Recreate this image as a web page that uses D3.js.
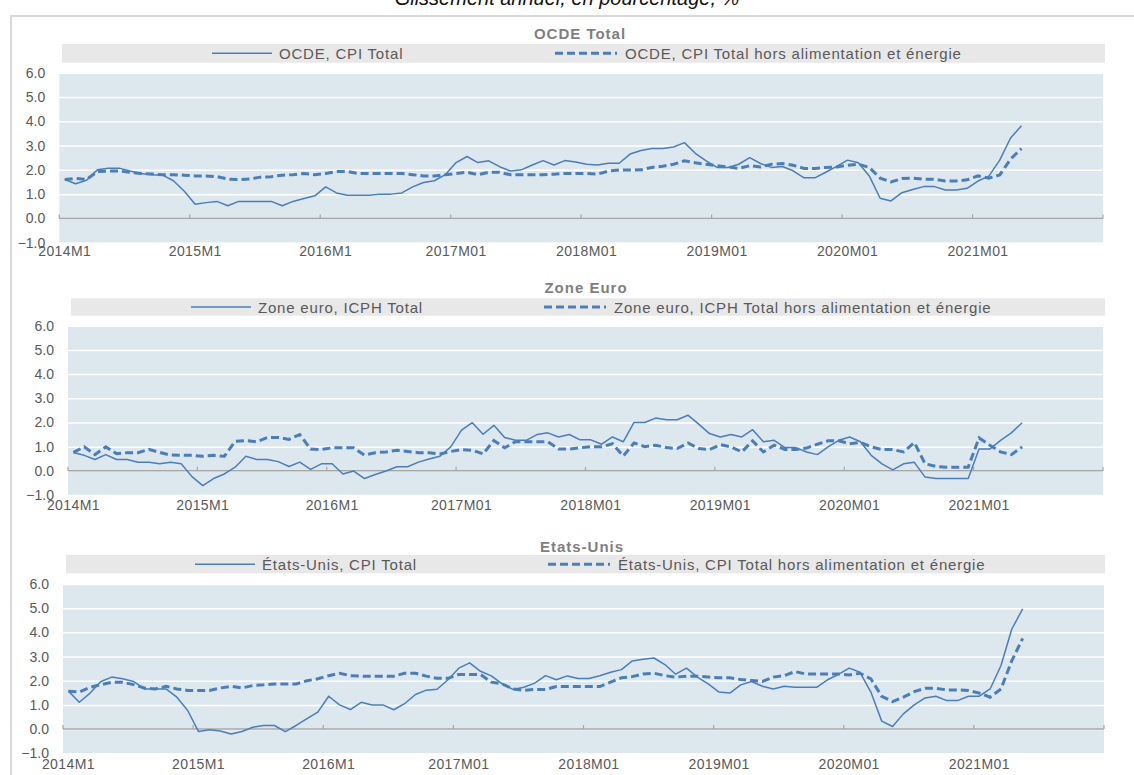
<!DOCTYPE html>
<html>
<head>
<meta charset="utf-8">
<script src="https://cdn.jsdelivr.net/npm/d3@7"></script>
<style>
  body { margin: 0; background: #fff; }
  svg { display: block; font-family: "Liberation Sans", Arial, sans-serif; }
</style>
</head>
<body>
<div id="chart"></div>
<script>
// tick labels of the x axis (one per January)
var xTickLabels = ["2014M1", "2015M1", "2016M1", "2017M01", "2018M01", "2019M01", "2020M01", "2021M01"];
var yTicks = [-1, 0, 1, 2, 3, 4, 5, 6];

// OCDE
var oecdTotal = [
  1.6, 1.43, 1.57, 2.0, 2.07, 2.07, 1.95, 1.85, 1.8, 1.78, 1.55, 1.12,
  0.58, 0.65, 0.7, 0.52, 0.7, 0.7, 0.7, 0.7, 0.52, 0.7, 0.82, 0.93,
  1.3, 1.05, 0.95, 0.95, 0.95, 1.0, 1.0, 1.05, 1.3, 1.48, 1.55, 1.8,
  2.3, 2.55, 2.3, 2.37, 2.13, 1.95, 2.0, 2.2, 2.38, 2.2, 2.38, 2.32,
  2.23, 2.2, 2.27, 2.27, 2.65, 2.8, 2.88, 2.88, 2.94, 3.12, 2.68, 2.37,
  2.1, 2.1, 2.23, 2.5, 2.26, 2.1, 2.14, 1.96, 1.67, 1.67, 1.9, 2.14,
  2.4, 2.29, 1.75, 0.83, 0.72, 1.06, 1.19, 1.31, 1.31, 1.17, 1.17, 1.24,
  1.54, 1.74, 2.4, 3.31, 3.82
];
var oecdCore = [
  1.6, 1.65, 1.6, 1.93, 1.95, 1.95, 1.9, 1.85, 1.83, 1.8, 1.8, 1.78,
  1.75, 1.75, 1.72, 1.62, 1.6, 1.62, 1.7, 1.72, 1.78, 1.8, 1.85, 1.8,
  1.85, 1.93, 1.93, 1.85, 1.85, 1.85, 1.85, 1.85, 1.8, 1.75, 1.75, 1.8,
  1.85, 1.9, 1.8, 1.9, 1.9, 1.8, 1.8, 1.8, 1.8, 1.82, 1.85, 1.85,
  1.85, 1.82, 1.95, 1.99, 1.99, 2.0, 2.1, 2.15, 2.23, 2.37, 2.29, 2.23,
  2.17, 2.12, 2.06, 2.17, 2.12, 2.23, 2.26, 2.19, 2.06, 2.06, 2.1, 2.12,
  2.19, 2.23, 2.1, 1.66, 1.5, 1.64, 1.66, 1.61, 1.61, 1.54, 1.54, 1.59,
  1.75, 1.66, 1.79, 2.44, 2.88
];

// Zone euro
var euroTotal = [
  0.76, 0.64, 0.47, 0.67, 0.47, 0.47, 0.35, 0.35, 0.29, 0.35, 0.29, -0.24,
  -0.61, -0.32, -0.13, 0.15, 0.6, 0.47, 0.47, 0.38, 0.18, 0.36, 0.06, 0.29,
  0.29, -0.13, -0.01, -0.32, -0.15, -0.01, 0.17, 0.17, 0.36, 0.49, 0.6, 0.99,
  1.68, 1.99, 1.51, 1.88, 1.38, 1.26, 1.26, 1.5, 1.57, 1.4, 1.5, 1.28,
  1.28, 1.1, 1.4, 1.2, 2.0, 2.0, 2.18, 2.11, 2.11, 2.3, 1.93, 1.54,
  1.4, 1.5, 1.4, 1.7, 1.2, 1.26, 0.96, 0.96, 0.78, 0.67, 0.99, 1.26,
  1.4, 1.2, 0.64, 0.29, 0.04, 0.29, 0.35, -0.26, -0.32, -0.32, -0.32, -0.32,
  0.9, 0.9, 1.26, 1.57, 1.99
];
var euroCore = [
  0.76, 0.99, 0.67, 0.99, 0.71, 0.75, 0.75, 0.89, 0.76, 0.65, 0.64, 0.64,
  0.6, 0.64, 0.6, 1.22, 1.25, 1.2, 1.38, 1.38, 1.3, 1.5, 0.9, 0.88,
  0.95, 0.95, 0.95, 0.65, 0.75, 0.78, 0.85, 0.8, 0.75, 0.75, 0.7, 0.8,
  0.88, 0.85, 0.7, 1.25, 0.95, 1.2, 1.2, 1.2, 1.2, 0.9, 0.9, 0.95,
  1.0, 0.99, 1.12, 0.61, 1.15, 1.0, 1.06, 0.96, 0.92, 1.15, 0.92, 0.88,
  1.08, 0.99, 0.78, 1.24, 0.78, 1.06, 0.88, 0.88, 0.94, 1.1, 1.24, 1.24,
  1.12, 1.17, 0.99, 0.88, 0.88, 0.78, 1.17, 0.29, 0.18, 0.15, 0.15, 0.15,
  1.36, 1.06, 0.78, 0.67, 0.99
];

// Etats-Unis
var usTotal = [
  1.57, 1.11, 1.49, 1.97, 2.15, 2.08, 1.97, 1.66, 1.66, 1.66, 1.32, 0.77,
  -0.1, -0.03, -0.08, -0.2, -0.1, 0.08, 0.15, 0.15, -0.1, 0.15, 0.43, 0.7,
  1.36, 1.0, 0.81, 1.11, 1.0, 1.0, 0.8, 1.05, 1.43, 1.61, 1.65, 2.04,
  2.52, 2.74, 2.39, 2.2, 1.87, 1.64, 1.73, 1.9, 2.21, 2.04, 2.2, 2.09,
  2.09, 2.21, 2.35, 2.46, 2.82, 2.89, 2.94, 2.67, 2.27, 2.52, 2.15, 1.87,
  1.53, 1.49, 1.83, 1.97, 1.77, 1.66, 1.77, 1.73, 1.73, 1.73, 2.04, 2.26,
  2.52, 2.35, 1.53, 0.33, 0.11, 0.63, 1.0, 1.29, 1.36, 1.18, 1.18, 1.36,
  1.36, 1.66, 2.63, 4.14, 4.97
];
var usCore = [
  1.57, 1.53, 1.73, 1.84, 1.94, 1.94, 1.84, 1.7, 1.66, 1.77, 1.66, 1.6,
  1.6, 1.6, 1.7, 1.77, 1.7, 1.8, 1.83, 1.87, 1.87, 1.87, 2.0, 2.08,
  2.21, 2.31, 2.21, 2.19, 2.19, 2.19, 2.19, 2.31, 2.31, 2.19, 2.1, 2.1,
  2.26, 2.26, 2.26, 1.94, 1.87, 1.66, 1.6, 1.64, 1.64, 1.76, 1.76, 1.76,
  1.76, 1.76, 1.94, 2.12, 2.17, 2.28, 2.31, 2.21, 2.15, 2.19, 2.19, 2.15,
  2.12, 2.12, 2.05, 2.01, 1.97, 2.15, 2.21, 2.38, 2.28, 2.28, 2.28, 2.28,
  2.24, 2.31, 2.08, 1.36, 1.14, 1.32, 1.55, 1.69, 1.69, 1.62, 1.62, 1.6,
  1.49, 1.32, 1.66, 2.83, 3.75
];

// monthly categories 2014M1 .. 2021M12
var months = [];
for (var yr = 2014; yr <= 2021; yr++) {
  for (var m = 1; m <= 12; m++) months.push(yr + "M" + m);
}

var lineColor = "#4a7ebb";
var width = 1134, height = 775;

var svg = d3.select("#chart").append("svg")
    .attr("width", width)
    .attr("height", height);

// subtitle, cut by the top of the picture
svg.append("text")
    .attr("x", 567)
    .attr("y", 5)
    .attr("text-anchor", "middle")
    .style("font-size", "20px")
    .style("font-style", "italic")
    .style("fill", "#111")
    .text("Glissement annuel, en pourcentage, %");

// outer frame
svg.append("rect")
    .attr("x", 11).attr("y", 16)
    .attr("width", 1200).attr("height", 800)
    .attr("fill", "none")
    .attr("stroke", "#d9d9d9")
    .attr("stroke-width", 2);

var panels = [
  {title: "OCDE Total", titleX: 580, titleY: 39,
   band: [62, 44, 1105, 62.7], plot: [59.3, 72.7, 1103, 242.7],
   legendA: 212, legendB: 555, labelY: 258,
   names: ["OCDE, CPI Total", "OCDE, CPI Total hors alimentation et énergie"],
   total: oecdTotal, core: oecdCore},
  {title: "Zone Euro", titleX: 586, titleY: 293,
   band: [71, 298.3, 1105, 315.7], plot: [68, 325.7, 1103, 495],
   legendA: 191, legendB: 544, labelY: 512,
   names: ["Zone euro, ICPH Total", "Zone euro, ICPH Total hors alimentation et énergie"],
   total: euroTotal, core: euroCore},
  {title: "Etats-Unis", titleX: 582, titleY: 551.5,
   band: [66, 555, 1105, 573.3], plot: [63, 584, 1104, 753.3],
   legendA: 195, legendB: 548, labelY: 771,
   names: ["États-Unis, CPI Total", "États-Unis, CPI Total hors alimentation et énergie"],
   total: usTotal, core: usCore}
];

panels.forEach(function(p) {
  var g = svg.append("g");
  var L = p.plot[0], T = p.plot[1], R = p.plot[2], B = p.plot[3];

  var x = d3.scaleBand().domain(months).range([L, R]).padding(0);
  var y = d3.scaleLinear().domain([-1, 6]).range([B, T]);
  var bw = x.bandwidth();

  // title
  g.append("text")
      .attr("x", p.titleX).attr("y", p.titleY)
      .attr("text-anchor", "middle")
      .style("font-size", "15px")
      .style("font-weight", "bold")
      .style("letter-spacing", "1px")
      .style("fill", "#7f7f7f")
      .text(p.title);

  // legend band
  var bandMid = (p.band[1] + p.band[3]) / 2;
  g.append("rect")
      .attr("x", p.band[0]).attr("y", p.band[1])
      .attr("width", p.band[2] - p.band[0]).attr("height", p.band[3] - p.band[1])
      .attr("fill", "#e8e8e8");
  g.append("line")
      .attr("x1", p.legendA).attr("x2", p.legendA + 60)
      .attr("y1", bandMid).attr("y2", bandMid)
      .attr("stroke", lineColor).attr("stroke-width", 1.5);
  g.append("text")
      .attr("x", p.legendA + 67).attr("y", bandMid + 5.5)
      .style("font-size", "15px").style("letter-spacing", "0.8px")
      .style("fill", "#595959")
      .text(p.names[0]);
  g.append("line")
      .attr("x1", p.legendB).attr("x2", p.legendB + 62)
      .attr("y1", bandMid).attr("y2", bandMid)
      .attr("stroke", lineColor).attr("stroke-width", 3)
      .attr("stroke-dasharray", "8,4");
  g.append("text")
      .attr("x", p.legendB + 70).attr("y", bandMid + 5.5)
      .style("font-size", "15px").style("letter-spacing", "0.8px")
      .style("fill", "#595959")
      .text(p.names[1]);

  // plot background
  g.append("rect")
      .attr("x", L).attr("y", T)
      .attr("width", R - L).attr("height", B - T)
      .attr("fill", "#dde7ee");

  // horizontal grid + y labels
  g.append("g")
      .attr("transform", "translate(" + L + ",0)")
      .call(d3.axisLeft(y).tickValues(yTicks).tickSize(-(R - L)).tickFormat(d3.format(".1f")))
      .call(function(a) { a.select(".domain").remove(); })
      .call(function(a) {
        a.selectAll("line").attr("stroke", "#fff").attr("stroke-width", 1.5);
        a.selectAll("text")
          .attr("x", -14)
          .style("font-size", "14px")
          .style("font-family", "Liberation Sans, Arial, sans-serif")
          .style("fill", "#595959");
      });

  // zero line with year ticks
  var tickXs = xTickLabels.map(function(d, i) { return x(months[i * 12]); }).concat([R]);
  g.append("line")
      .attr("x1", L).attr("x2", R)
      .attr("y1", y(0)).attr("y2", y(0))
      .attr("stroke", "#a6a6a6").attr("stroke-width", 1.5);
  g.selectAll(".ytick")
      .data(tickXs)
    .enter().append("line")
      .attr("x1", function(d) { return d; }).attr("x2", function(d) { return d; })
      .attr("y1", y(0)).attr("y2", y(0) - 4)
      .attr("stroke", "#a6a6a6").attr("stroke-width", 1.2);

  // x labels at the bottom
  var janMonths = xTickLabels.map(function(d, i) { return months[i * 12]; });
  g.append("g")
      .attr("transform", "translate(0," + (p.labelY - 12) + ")")
      .call(d3.axisBottom(x).tickValues(janMonths).tickSize(0)
        .tickFormat(function(d) { return xTickLabels[janMonths.indexOf(d)]; }))
      .call(function(a) { a.select(".domain").remove(); })
      .call(function(a) {
        a.selectAll("text")
          .attr("dy", "0.71em")
          .attr("y", 0)
          .style("font-size", "14px")
          .style("letter-spacing", "0.4px")
          .style("font-family", "Liberation Sans, Arial, sans-serif")
          .style("fill", "#595959");
      });

  // series
  var line = d3.line()
      .x(function(d, i) { return x(months[i]) + bw / 2; })
      .y(function(d) { return y(d); });

  g.append("path")
      .datum(p.core)
      .attr("fill", "none")
      .attr("stroke", lineColor)
      .attr("stroke-width", 3)
      .attr("stroke-dasharray", "8,4")
      .attr("d", line);

  g.append("path")
      .datum(p.total)
      .attr("fill", "none")
      .attr("stroke", lineColor)
      .attr("stroke-width", 1.5)
      .attr("stroke-linejoin", "round")
      .attr("d", line);
});
</script>
</body>
</html>
